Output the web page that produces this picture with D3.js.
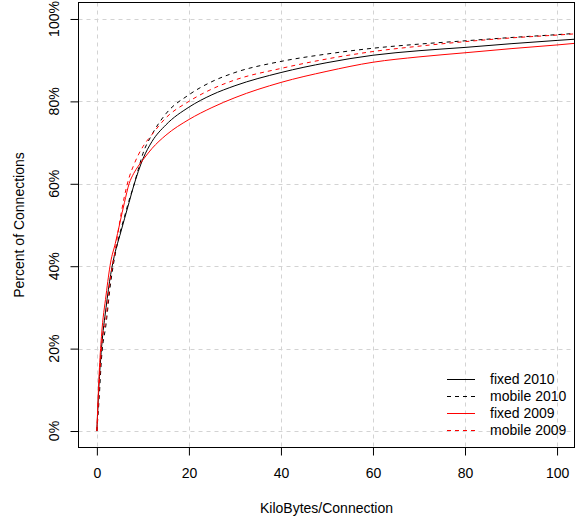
<!DOCTYPE html>
<html>
<head>
<meta charset="utf-8">
<script src="https://cdn.jsdelivr.net/npm/d3@7"></script>
<style>
  html, body { margin: 0; padding: 0; background: #fff; }
  svg { display: block; }
  text { font-family: "Liberation Sans", Arial, Helvetica, sans-serif; font-size: 14px; fill: #000; }
</style>
</head>
<body>
<svg id="chart" width="581" height="518"></svg>
<script>
// ---- data (KB per connection -> cumulative percent of connections) ----
const kb = [0, 0.5, 1, 2, 3, 4, 5, 6, 7, 8, 9, 10, 12, 15, 20, 25, 30, 40, 50, 60, 70, 80, 90, 100, 104];
const fixed2010  = [0, 12, 20, 30, 38, 43.5, 47.5, 51.5, 55.5, 59.5, 63, 66, 70.3, 74.3, 78.6, 81.6, 83.8, 87.0, 89.4, 91.2, 92.3, 93.1, 94.0, 94.8, 95.1];
const mobile2010 = [0, 8, 17.5, 26, 36, 43, 48, 52, 56, 59.5, 63.5, 67.3, 72, 77, 81.6, 84.8, 87.0, 89.7, 91.5, 92.9, 93.9, 94.7, 95.5, 96.2, 96.5];
const fixed2009  = [0, 14, 23, 33, 41, 45.5, 50.5, 55.5, 60, 62.5, 64.3, 65.8, 68.6, 71.8, 75.6, 78.5, 80.9, 84.6, 87.3, 89.5, 90.8, 91.8, 92.8, 93.7, 94.1];
const mobile2009 = [0, 11, 20, 27.5, 37.5, 44, 51, 57, 61.5, 64.5, 67, 69, 72, 76, 80.0, 83, 85.2, 88.0, 90.3, 92.1, 93.4, 94.5, 95.4, 96.1, 96.4];

const seriesNames  = ["fixed 2010", "mobile 2010", "fixed 2009", "mobile 2009"];
const seriesValues = [fixed2010, mobile2010, fixed2009, mobile2009];
const seriesColors = ["#000000", "#000000", "#FF0000", "#FF0000"];
const seriesDashes = [null, "4,4", null, "4,4"];

const xTicks = [0, 20, 40, 60, 80, 100];
const yTicks = [0, 20, 40, 60, 80, 100];
const yTickLabels = ["0%", "20%", "40%", "60%", "80%", "100%"];
const xTitle = "KiloBytes/Connection";
const yTitle = "Percent of Connections";

// ---- layout ----
const svg = d3.select("#chart");
const L = 78.5, R = 574.5, T = 2.5, B = 447.5;
const xlim = [0, 99.8], ylim = [0, 100];
const xPad = (xlim[1] - xlim[0]) * 0.04, yPad = (ylim[1] - ylim[0]) * 0.04;
const x = d3.scaleLinear().domain([xlim[0] - xPad, xlim[1] + xPad]).range([L, R]);
const y = d3.scaleLinear().domain([ylim[0] - yPad, ylim[1] + yPad]).range([B, T]);

svg.append("defs").append("clipPath").attr("id", "clip")
  .append("rect").attr("x", L).attr("y", T).attr("width", R - L).attr("height", B - T);

// grid
const grid = svg.append("g").attr("stroke", "#d3d3d3").attr("stroke-width", 1).attr("stroke-dasharray", "4,4");
grid.selectAll("line.gx").data(xTicks).join("line").attr("class", "gx")
  .attr("x1", d => Math.round(x(d)) + 0.5).attr("x2", d => Math.round(x(d)) + 0.5)
  .attr("y1", T).attr("y2", B);
grid.selectAll("line.gy").data(yTicks).join("line").attr("class", "gy")
  .attr("y1", d => Math.round(y(d)) + 0.5).attr("y2", d => Math.round(y(d)) + 0.5)
  .attr("x1", L).attr("x2", R);

// curves
const line = d3.line().x((d, i) => x(kb[i])).y(d => y(d)).curve(d3.curveMonotoneX);
const curves = svg.append("g").attr("clip-path", "url(#clip)");
seriesValues.forEach((vals, k) => {
  curves.append("path").attr("d", line(vals))
    .attr("fill", "none").attr("stroke", seriesColors[k]).attr("stroke-width", 1)
    .attr("stroke-dasharray", seriesDashes[k]);
});

// box
svg.append("rect").attr("x", L).attr("y", T).attr("width", R - L).attr("height", B - T)
  .attr("fill", "none").attr("stroke", "#000").attr("stroke-width", 1);

// x axis
const xa = svg.append("g").attr("transform", `translate(0,${B})`)
  .call(d3.axisBottom(x).tickValues(xTicks).tickSize(8).tickSizeOuter(0).tickPadding(13).tickFormat(d3.format("d")));
xa.select(".domain").remove();
xa.selectAll("text").attr("font-size", 14).attr("font-family", null);
xa.selectAll("line").attr("stroke", "#000");

// y axis
const ya = svg.append("g").attr("transform", `translate(${L},0)`)
  .call(d3.axisLeft(y).tickValues(yTicks).tickSize(8).tickSizeOuter(0).tickFormat(""));
ya.select(".domain").remove();
ya.selectAll("line").attr("stroke", "#000");
svg.append("g").selectAll("text").data(yTicks).join("text")
  .attr("transform", (d) => `translate(59,${y(d)}) rotate(-90)`)
  .attr("text-anchor", "middle")
  .text((d, i) => yTickLabels[i]);

// titles
svg.append("text").attr("x", (L + R) / 2).attr("y", 513).attr("text-anchor", "middle").text(xTitle);
svg.append("text").attr("transform", `translate(24,${(T + B) / 2}) rotate(-90)`)
  .attr("text-anchor", "middle").text(yTitle);

// legend
const lg = svg.append("g");
const legY0 = 379, legDy = 17;
seriesNames.forEach((name, k) => {
  const yy = legY0 + k * legDy;
  lg.append("line").attr("x1", 447).attr("x2", 475).attr("y1", yy + 0.5).attr("y2", yy + 0.5)
    .attr("stroke", seriesColors[k]).attr("stroke-width", 1).attr("stroke-dasharray", seriesDashes[k]);
  lg.append("text").attr("x", 490).attr("y", yy + 5).text(name);
});
</script>
</body>
</html>
